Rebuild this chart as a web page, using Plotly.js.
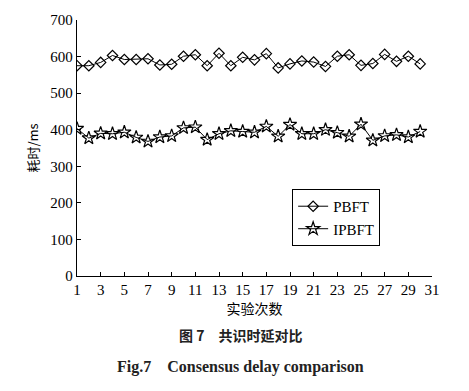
<!DOCTYPE html>
<html><head><meta charset="utf-8">
<script src="https://cdn.plot.ly/plotly-3.0.1.min.js"></script>
<style>html,body{margin:0;padding:0;background:#fff;}</style>
</head><body>
<div id="chart" style="width:469px;height:391px;"></div>
<script>
const runs = Array.from({length: 30}, (_, i) => i + 1);
const pbft = [575,575,584,603,592,592,594,577,579,601,605,575,609,575,598,591,608,569,580,588,585,573,601,605,576,581,606,587,601,580];
const ipbft = [403,377,390,389,393,379,368,380,383,405,407,373,389,397,395,393,409,382,414,389,389,400,392,382,415,371,383,386,380,395];
const seriesNames = ['PBFT', 'IPBFT'];
const xTicks = [1,3,5,7,9,11,13,15,17,19,21,23,25,27,29,31];
const yTicks = [0,100,200,300,400,500,600,700];

const serif = 'Liberation Serif';
const cjk = 'Noto Sans CJK SC';

const traces = [
  {x: runs, y: pbft, name: seriesNames[0], type: 'scatter', mode: 'lines+markers',
   line: {color: '#000', width: 1},
   marker: {symbol: 'diamond-open', size: 8, color: '#000', line: {width: 1.2, color: '#000'}}},
  {x: runs, y: ipbft, name: seriesNames[1], type: 'scatter', mode: 'lines+markers',
   line: {color: '#000', width: 1},
   marker: {symbol: 'star-open', size: 10, color: '#000', line: {width: 1.2, color: '#000'}}}
];

const layout = {
  width: 469, height: 391,
  margin: {l: 77, r: 37, t: 20, b: 115},
  paper_bgcolor: '#fff', plot_bgcolor: '#fff',
  showlegend: true,
  legend: {x: 0.606, y: 0.34, xanchor: 'left', yanchor: 'top',
    bordercolor: '#000', borderwidth: 1, bgcolor: '#fff',
    font: {family: serif, size: 15, color: '#000'},
    itemwidth: 30, tracegroupgap: 0},
  xaxis: {range: [1, 31], tickvals: xTicks, ticktext: xTicks.map(String),
    showgrid: false, zeroline: false, showline: true, linecolor: '#000', linewidth: 1.3,
    ticks: 'inside', ticklen: 4, tickcolor: '#000',
    tickfont: {family: serif, size: 15, color: '#000'},
    title: {text: '实验次数', font: {family: cjk, size: 14, color: '#000'}, standoff: 5}},
  yaxis: {range: [0, 700], tickvals: yTicks, ticktext: yTicks.map(String),
    showgrid: false, zeroline: false, showline: true, linecolor: '#000', linewidth: 1.3,
    ticks: 'inside', ticklen: 4, tickcolor: '#000',
    tickfont: {family: serif, size: 15, color: '#000'},
    title: {text: '耗时/ms', font: {family: cjk, size: 13, color: '#000'}, standoff: 8}},
  annotations: [
    {text: '<b>图 7　共识时延对比</b>', xref: 'paper', yref: 'paper', x: 0.46, y: -0.23,
     showarrow: false, xanchor: 'center', yanchor: 'middle',
     font: {family: cjk, size: 14, color: '#222'}},
    {text: '<b>Fig.7　Consensus delay comparison</b>', xref: 'paper', yref: 'paper', x: 0.46, y: -0.355,
     showarrow: false, xanchor: 'center', yanchor: 'middle',
     font: {family: serif, size: 16, color: '#222'}}
  ]
};

Plotly.newPlot('chart', traces, layout, {displayModeBar: false, staticPlot: true});
</script>
</body></html>
